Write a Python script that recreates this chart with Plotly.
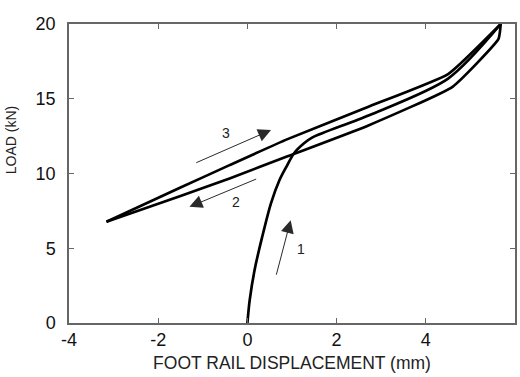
import plotly.graph_objects as go

# Branch 1: initial loading from rest up to the peak
load_x = [0.0, 0.05, 0.16, 0.33, 0.53, 0.72, 0.87, 1.05, 1.27, 1.45, 2.73, 4.5, 5.68]
load_y = [0.0, 1.5, 3.53, 5.74, 8.02, 9.56, 10.43, 11.37, 12.02, 12.4, 13.9, 16.35, 20.0]

# Branch 2: unloading from the peak back to the reversal point
unload_x = [5.68, 5.63, 4.6, 2.7, 0.9, -0.4, -1.5, -3.16]
unload_y = [20.0, 19.0, 15.8, 13.2, 11.15, 9.67, 8.5, 6.77]

# Branch 3: reloading from the reversal point to the peak
reload_x = [-3.16, -1.5, -0.4, 0.9, 2.7, 4.5, 5.68]
reload_y = [6.77, 9.06, 10.56, 12.3, 14.45, 16.65, 20.0]

# Direction arrows: (label, tail x, tail y, head x, head y, label x, label y)
arrows = [
    ("1", 0.64, 3.13, 0.97, 6.88, 1.2, 4.98),
    ("2", 0.23, 9.67, -1.30, 7.77, -0.25, 8.1),
    ("3", -1.18, 10.68, 0.53, 12.91, -0.48, 12.73),
]

x_ticks = [-4, -2, 0, 2, 4, 6]
x_tick_text = ["-4", "-2", "0", "2", "4", "6"]
y_ticks = [0, 5, 10, 15, 20]

FONT = "Liberation Sans, Arial, sans-serif"

# figure size and plot-area margins (pixels)
W, H = 520, 377
ML, MR, MT, MB = 69, 3, 24, 54
PW, PH = W - ML - MR, H - MT - MB

fig = go.Figure()
branches = [(load_x, load_y, 0.8), (unload_x, unload_y, 0.4), (reload_x, reload_y, 0.4)]
for xs, ys, smooth in branches:
    fig.add_trace(go.Scatter(
        x=xs, y=ys, mode="lines",
        line=dict(color="black", width=2.7, shape="spline", smoothing=smooth),
        showlegend=False, hoverinfo="skip",
    ))

annotations = []
for lab, tx, ty, hx, hy, lx, ly in arrows:
    annotations.append(dict(
        x=hx, y=hy, ax=tx, ay=ty, xref="x", yref="y", axref="x", ayref="y",
        showarrow=True, arrowhead=2, arrowsize=2.6, arrowwidth=1,
        arrowcolor="#2a2a2a", text="",
    ))
    annotations.append(dict(
        x=lx, y=ly, xref="x", yref="y", text=lab, showarrow=False,
        font=dict(family=FONT, size=14, color="#222222"),
    ))

# vertical axis title, placed by pixel position left of the tick labels
annotations.append(dict(
    x=(11 - ML) / PW, y=(H - MB - 140) / PH, xref="paper", yref="paper",
    xanchor="center", yanchor="middle",
    text="LOAD (kN)", textangle=-90, showarrow=False,
    font=dict(family=FONT, size=14, color="#222222"),
))

axis_common = dict(
    showgrid=False, zeroline=False, showline=True, linecolor="#666666",
    linewidth=1.5, mirror="ticks", ticks="inside", ticklen=5,
    tickcolor="#666666", tickwidth=1,
    tickfont=dict(family=FONT, size=18, color="#111111"),
)

fig.update_layout(
    width=W, height=H,
    margin=dict(l=ML, r=MR, t=MT, b=MB),
    paper_bgcolor="white", plot_bgcolor="white",
    xaxis=dict(range=[-4, 6], tickvals=x_ticks, ticktext=x_tick_text,
               ticklabelstandoff=0,
               title=dict(text="FOOT RAIL DISPLACEMENT (mm)",
                          font=dict(family=FONT, size=17.5, color="#222222"),
                          standoff=7),
               **axis_common),
    yaxis=dict(range=[0, 20], tickvals=y_ticks, ticklabelstandoff=8,
               **axis_common),
    annotations=annotations,
)

fig.write_html("out.html")
